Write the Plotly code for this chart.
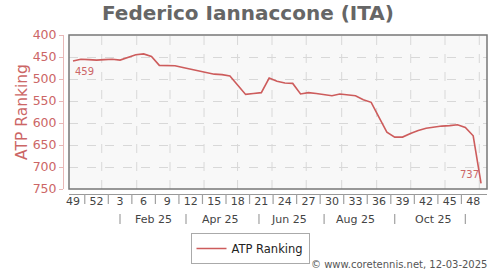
import plotly.graph_objects as go

# ---- data ----
weeks = [49, 50, 51, 52] + list(range(1, 50))
ranking = [459, 455, 456, 457, 456, 455, 457, 451, 445, 443, 449, 469, 469, 470,
           474, 478, 481, 485, 489, 490, 493, 514, 535, 533, 531, 498, 505, 509,
           510, 534, 531, 533, 535, 538, 534, 536, 538, 547, 553, 587, 621, 632,
           632, 624, 617, 612, 609, 607, 606, 604, 610, 629, 737]
x_idx = list(range(len(ranking)))

week_tick_idx = x_idx[0::3]
week_tick_text = [str(weeks[i]) for i in week_tick_idx]
week_sep_idx = [i + 1.5 for i in week_tick_idx[:-1]]

# month boundaries (fractional week index) for vertical grid
month_grid_idx = [3.66, 8.12, 12.36, 16.70, 20.97, 25.36, 29.72, 34.24, 38.70, 43.04, 47.41, 51.78]
# two-month period labels and separators
period_labels = ["Feb 25", "Apr 25", "Jun 25", "Aug 25", "Oct 25"]
period_label_idx = [10.25, 18.75, 27.5, 35.95, 45.9]
period_sep_idx = [5.99, 14.4, 23.7, 32.0, 41.0, 50.0]

y_ticks = [400, 450, 500, 550, 600, 650, 700, 750]

RED = "#cd5c5c"
TXT_RED = "#cc6666"
PH = 159  # plot-area paper height in px


def py(px):
    """pixel row -> paper y (paper bottom sits at pixel row 194)"""
    return (194 - px) / PH


fig = go.Figure()
fig.add_trace(go.Scatter(
    x=x_idx, y=ranking, mode="lines", name="ATP Ranking",
    line=dict(color=RED, width=1.6), hoverinfo="y",
))

shapes = []
for m in month_grid_idx:
    shapes.append(dict(type="line", xref="x", yref="y domain", x0=m, x1=m, y0=0, y1=1,
                       line=dict(color="#d8d8d8", width=1, dash="dash"), layer="below"))
shapes.append(dict(type="rect", xref="x domain", yref="y domain", x0=0, x1=1, y0=0, y1=1,
                   line=dict(color="#777777", width=1.5), layer="above"))
for xi in week_sep_idx:
    shapes.append(dict(type="line", xref="x", yref="paper", x0=xi, x1=xi,
                       y0=py(194), y1=py(204), line=dict(color="#a0a0a0", width=1.2)))
for xi in period_sep_idx:
    shapes.append(dict(type="line", xref="x", yref="paper", x0=xi, x1=xi,
                       y0=py(214), y1=py(224), line=dict(color="#a0a0a0", width=1.2)))

annotations = [
    dict(x=x_idx[0], y=ranking[0], xref="x", yref="y", text=str(ranking[0]),
         showarrow=False, xanchor="left", yanchor="top", yshift=-3,
         font=dict(size=10, color=TXT_RED, family="DejaVu Sans")),
    dict(x=x_idx[-1], y=ranking[-1], xref="x", yref="y", text=str(ranking[-1]),
         showarrow=False, xanchor="right", yanchor="bottom", yshift=1,
         font=dict(size=10, color=TXT_RED, family="DejaVu Sans")),
    dict(x=(489 - 63) / 424, y=py(264), xref="paper", yref="paper",
         text="© www.coretennis.net, 12-03-2025",
         showarrow=False, xanchor="right", yanchor="middle",
         font=dict(size=10, color="#555555", family="DejaVu Sans")),
]
for lab, xi in zip(period_labels, period_label_idx):
    annotations.append(dict(x=xi, y=py(219), xref="x", yref="paper", text=lab,
                            showarrow=False, xanchor="center", yanchor="middle",
                            font=dict(size=11, color="#444444", family="DejaVu Sans")))

fig.update_layout(
    width=500, height=270,
    margin=dict(l=63, r=13, t=35, b=76),
    paper_bgcolor="white", plot_bgcolor="#f8f8f8",
    font=dict(family="DejaVu Sans"),
    title=dict(text="<b>Federico Iannaccone (ITA)</b>", xref="container", yref="container",
               x=0.496, y=1 - 13 / 270, xanchor="center", yanchor="middle",
               font=dict(size=20, color="#666666", family="DejaVu Sans")),
    xaxis=dict(
        domain=[6 / 424, 1], anchor="free", position=0,
        range=[-0.51, 52.76], showgrid=False, zeroline=False,
        showline=True, linecolor="#999999", linewidth=1,
        tickmode="array", tickvals=week_tick_idx, ticktext=week_tick_text,
        ticks="", ticklabelstandoff=-3, tickfont=dict(size=11, color="#444444"),
    ),
    yaxis=dict(
        domain=[5 / PH, 1], anchor="free", position=0,
        range=[750, 400], tickmode="array", tickvals=y_ticks,
        showgrid=True, gridcolor="#d8d8d8", griddash="dash", zeroline=False,
        showline=True, linecolor="#e8b8b8", linewidth=1,
        ticks="outside", ticklen=4, tickcolor="#e8b8b8",
        tickfont=dict(size=12.5, color=TXT_RED),
        title=dict(text="ATP Ranking", font=dict(size=15.5, color=TXT_RED), standoff=0),
    ),
    showlegend=True,
    legend=dict(orientation="h", xref="container", yref="container",
                x=0.5, xanchor="center", y=1 - 233 / 270, yanchor="top",
                bgcolor="white", bordercolor="#aaaaaa", borderwidth=1,
                itemwidth=30, font=dict(size=11.5, color="#222222")),
    shapes=shapes, annotations=annotations,
)

fig.write_html("out.html")
